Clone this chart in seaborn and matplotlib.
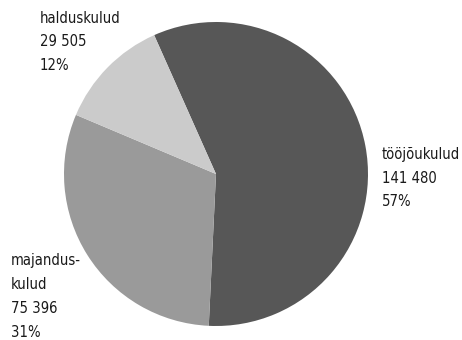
import matplotlib
matplotlib.use("Agg")
import matplotlib.pyplot as plt
import seaborn as sns

# Data
categories = ["tööjõukulud", "majandus-\nkulud", "halduskulud"]
values = [141480, 75396, 29505]
percents = [57, 31, 12]
colors = ["#575757", "#9a9a9a", "#cbcbcb"]

sns.set_theme(style="white")
plt.rcParams['font.family'] = ['DejaVu Sans']

fig = plt.figure(figsize=(4.62, 3.40), dpi=100)
# pie centre at (216,174) px, radius 152 px
cx, cy, r = 216, 174, 152
W, H = 462, 340
ax = fig.add_axes([(cx - r) / W, (H - cy - r) / H, 2 * r / W, 2 * r / H])
ax.pie(values, colors=colors, startangle=114, counterclock=False,
       radius=1, wedgeprops=dict(linewidth=0))
ax.set_xlim(-1, 1)
ax.set_ylim(-1, 1)
ax.axis("off")

def fmt(v):
    return f"{v:,}".replace(",", " ")

# label positions in data units (left edge, top)
label_pos = [(1.09, 0.18), (-1.35, -0.52), (-1.16, 1.075)]
for cat, v, p, (x, y) in zip(categories, values, percents, label_pos):
    ax.text(x, y, f"{cat}\n{fmt(v)}\n{p}%", ha="left", va="top",
            fontsize=10.6, fontstretch="condensed", color="#1a1a1a",
            linespacing=1.74, clip_on=False)

fig.savefig("out.png", dpi=100)
